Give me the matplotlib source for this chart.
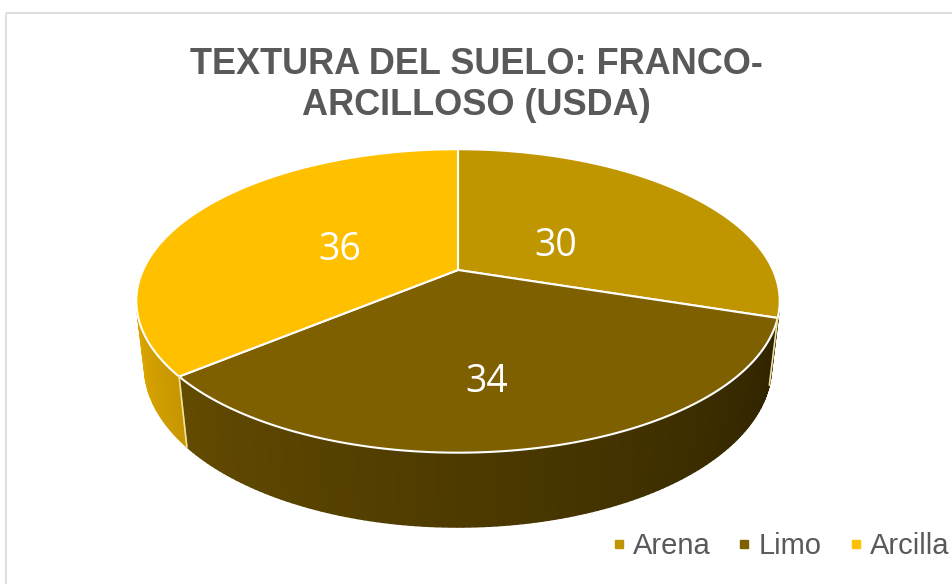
import numpy as np
import matplotlib.pyplot as plt
from matplotlib.patches import Polygon, Rectangle
from matplotlib.lines import Line2D
from matplotlib.colors import to_rgb

labels = ['Arena', 'Limo', 'Arcilla']
values = [30, 34, 36]
colors = ['#C09600', '#7F6000', '#FFC000']
title = 'TEXTURA DEL SUELO: FRANCO-\nARCILLOSO (USDA)'

# fake 3d pie, excel style (pixel coords)
cx, cy = 458, 270
F, D = 1370.0, 4.35
elev = np.radians(27.5)
depth = 0.235
label_r = [0.40, 0.60, 0.42]
label_off = [(0, 9), (-12, 15), (-3, 5)]  # nudges in px


def proj(theta, r=1.0, z=0.0):
    # theta measured clockwise from 12 o'clock
    u = r * np.sin(theta)
    v = r * np.cos(theta)
    yc = v * np.sin(elev) + z * np.cos(elev)
    dep = D + v * np.cos(elev) - z * np.sin(elev)
    return cx + F * u / dep, cy - F * yc / dep


def facing(theta):
    return np.cos(theta) < -1.0 / (D * np.cos(elev))


fig = plt.figure(figsize=(9.53, 5.84), dpi=100)
ax = fig.add_axes([0, 0, 1, 1])
ax.set_xlim(0, 953)
ax.set_ylim(584, 0)
ax.axis('off')

ax.add_patch(Rectangle((6, 13), 1000, 1000, fill=False, ec='#d9d9d9', lw=1.2))

fracs = np.array(values) / np.sum(values)
edges = np.concatenate([[0], np.cumsum(fracs)]) * 2 * np.pi

# side walls
for i in range(len(values)):
    a0, a1 = edges[i], edges[i + 1]
    n = max(int(np.degrees(a1 - a0)), 2)
    ts = np.linspace(a0, a1, n + 1)
    base = np.array(to_rgb(colors[i]))
    for t0, t1 in zip(ts[:-1], ts[1:]):
        tm = 0.5 * (t0 + t1)
        if not facing(tm):
            continue
        f = np.clip(0.32 + (np.degrees(tm) - 95) * 0.0034, 0.28, 0.9)
        c = base * f
        xa, ya = proj(t0)
        xb, yb = proj(t1)
        xc, yc = proj(t1, z=-depth)
        xd, yd = proj(t0, z=-depth)
        ax.add_patch(Polygon([[xa, ya], [xb, yb], [xc, yc], [xd, yd]],
                             closed=True, fc=c, ec=c, lw=1.0))

# seams between walls
for a in edges[1:-1]:
    if facing(a):
        x0, y0 = proj(a)
        x1, y1 = proj(a, z=-depth)
        ax.plot([x0, x1], [y0, y1], color='#f0e2a0', lw=1.2)

# top faces
for i in range(len(values)):
    ts = np.linspace(edges[i], edges[i + 1], 200)
    xs, ys = proj(ts)
    pts = np.column_stack([np.r_[cx, xs], np.r_[cy, ys]])
    ax.add_patch(Polygon(pts, closed=True, fc=colors[i], ec='white', lw=1.5,
                         joinstyle='round'))
    mid = 0.5 * (edges[i] + edges[i + 1])
    lx, ly = proj(mid, r=label_r[i])
    ax.text(lx + label_off[i][0], ly + label_off[i][1], str(values[i]),
            color='white', fontsize=27, family='Open Sans',
            ha='center', va='center')

ax.text(476, 85, title, ha='center', va='center', fontsize=26,
        fontweight='bold', color='#595959', family='Liberation Sans',
        linespacing=1.22)

handles = [Line2D([], [], ls='none', marker='s', ms=6, color=c) for c in colors]
ax.legend(handles, labels, loc='center right', bbox_to_anchor=(1.024, 0.065),
          ncol=3, frameon=False, handlelength=0.5, handletextpad=0.25,
          columnspacing=0.9,
          prop={'family': 'Liberation Sans', 'size': 21}, labelcolor='#595959')

fig.savefig('out.png', dpi=100)
